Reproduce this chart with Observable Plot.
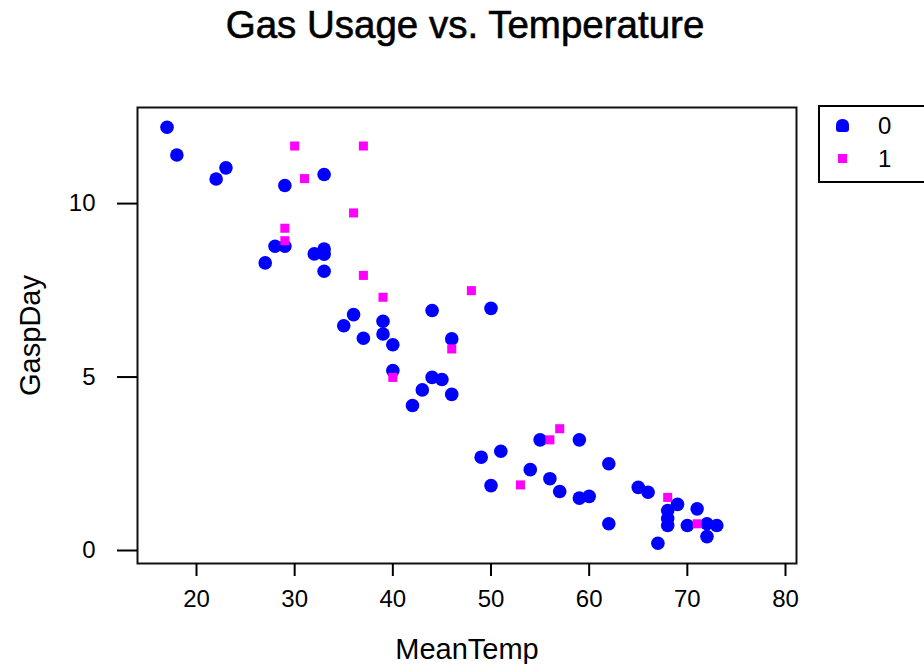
<!DOCTYPE html>
<html>
<head>
<meta charset="utf-8">
<script src="https://cdn.jsdelivr.net/npm/d3@7"></script>
<script src="https://cdn.jsdelivr.net/npm/@observablehq/plot@0.6"></script>
<style>
  html, body { margin: 0; padding: 0; background: #fff; }
  body { width: 924px; height: 664px; position: relative; overflow: hidden; font-family: "Liberation Sans", Arial, sans-serif; }
  #title { position: absolute; left: 0; top: 6px; width: 930px; text-align: center; font-size: 38.5px; line-height: 38px; font-weight: normal; color: #000; -webkit-text-stroke: 0.6px #000; }
  #chart { position: absolute; left: 0; top: 0; }
  #legend { position: absolute; left: 818px; top: 105px; width: 120px; height: 74px; border: 2px solid #000; background: #fff; }
  .lg-row { position: absolute; left: 0; width: 120px; height: 30px; }
  .lg-sym { position: absolute; }
  .lg-lab { position: absolute; left: 58px; font-size: 24px; line-height: 30px; top: 0; }
</style>
</head>
<body>
<div id="title">Gas Usage vs. Temperature</div>
<div id="chart"></div>
<div id="legend"></div>
<script>
// Group "0" (blue dots)
const temp0 = [17, 18, 23, 22, 33, 29, 28, 29, 27, 32, 33, 33, 33, 44, 50, 36, 35, 39, 39, 37, 40, 46, 40, 44, 45, 43, 46, 42, 55, 59, 51, 49, 62, 54, 56, 50, 57, 59, 60, 65, 66, 62, 69, 68, 68, 68, 71, 70, 72, 73, 72, 67];
const gas0  = [12.20, 11.40, 11.03, 10.71, 10.84, 10.52, 8.77, 8.77, 8.29, 8.55, 8.69, 8.54, 8.05, 6.92, 6.98, 6.80, 6.48, 6.61, 6.24, 6.12, 5.93, 6.10, 5.19, 4.99, 4.93, 4.63, 4.50, 4.18, 3.19, 3.19, 2.86, 2.69, 2.50, 2.33, 2.07, 1.87, 1.70, 1.51, 1.56, 1.82, 1.68, 0.77, 1.33, 1.15, 0.92, 0.72, 1.20, 0.72, 0.77, 0.72, 0.40, 0.21];
// Group "1" (magenta squares)
const temp1 = [30, 37, 31, 36, 29, 29, 37, 39, 48, 46, 40, 57, 56, 53, 68, 71];
const gas1  = [11.66, 11.66, 10.72, 9.73, 9.29, 8.93, 7.93, 7.30, 7.49, 5.81, 4.99, 3.51, 3.19, 1.89, 1.53, 0.77];

const groups = ["0", "1"];
const groupColors = ["#0000ff", "#ff00ff"];
const xTicks = [20, 30, 40, 50, 60, 70, 80];
const yTicks = [0, 5, 10];

const data0 = temp0.map((t, i) => ({MeanTemp: t, GaspDay: gas0[i]}));
const data1 = temp1.map((t, i) => ({MeanTemp: t, GaspDay: gas1[i]}));

const font = '"Liberation Sans", Arial, sans-serif';

const plot = Plot.plot({
  width: 924,
  height: 664,
  marginLeft: 137,
  marginRight: 128,
  marginTop: 107,
  marginBottom: 101,
  style: {fontFamily: font, fontSize: "24px", color: "#000", background: "transparent", overflow: "visible"},
  x: {domain: [13.99, 81.12]},
  y: {domain: [-0.375, 12.77]},
  marks: [
    Plot.frame({stroke: "#111", strokeWidth: 2}),
    Plot.axisX({ticks: xTicks, tickSize: 13, tickPadding: 13, tickFormat: d => String(d), label: null, fontSize: 24, strokeWidth: 2}),
    Plot.axisY({ticks: yTicks, tickSize: 20, tickPadding: 22, tickFormat: d => String(d), label: null, fontSize: 24, strokeWidth: 2}),
    Plot.text(["MeanTemp"], {frameAnchor: "bottom", dy: 86, text: d => d, fontSize: 29, lineAnchor: "middle", fill: "#000"}),
    Plot.text(["GaspDay"], {frameAnchor: "left", dx: -107, rotate: -90, text: d => d, fontSize: 29, textAnchor: "middle", lineAnchor: "middle", fill: "#000"}),
    Plot.dot(data0, {x: "MeanTemp", y: "GaspDay", r: 6.8, fill: groupColors[0], stroke: null}),
    Plot.dot(data1, {x: "MeanTemp", y: "GaspDay", symbol: "square", r: 5.1, fill: groupColors[1], stroke: null})
  ]
});
document.getElementById("chart").appendChild(plot);

// Legend
const legend = document.getElementById("legend");
groups.forEach((g, i) => {
  const row = document.createElement("div");
  row.className = "lg-row";
  row.style.top = (4 + i * 33) + "px";
  const sym = document.createElement("div");
  sym.className = "lg-sym";
  if (i === 0) {
    sym.style.cssText = `left:16px;top:8px;width:13px;height:13px;border-radius:6px 6px 3px 3px;background:${groupColors[i]};`;
  } else {
    sym.style.cssText = `left:18px;top:10px;width:9px;height:9px;background:${groupColors[i]};`;
  }
  const lab = document.createElement("div");
  lab.className = "lg-lab";
  lab.textContent = g;
  row.appendChild(sym);
  row.appendChild(lab);
  legend.appendChild(row);
});
</script>
</body>
</html>
